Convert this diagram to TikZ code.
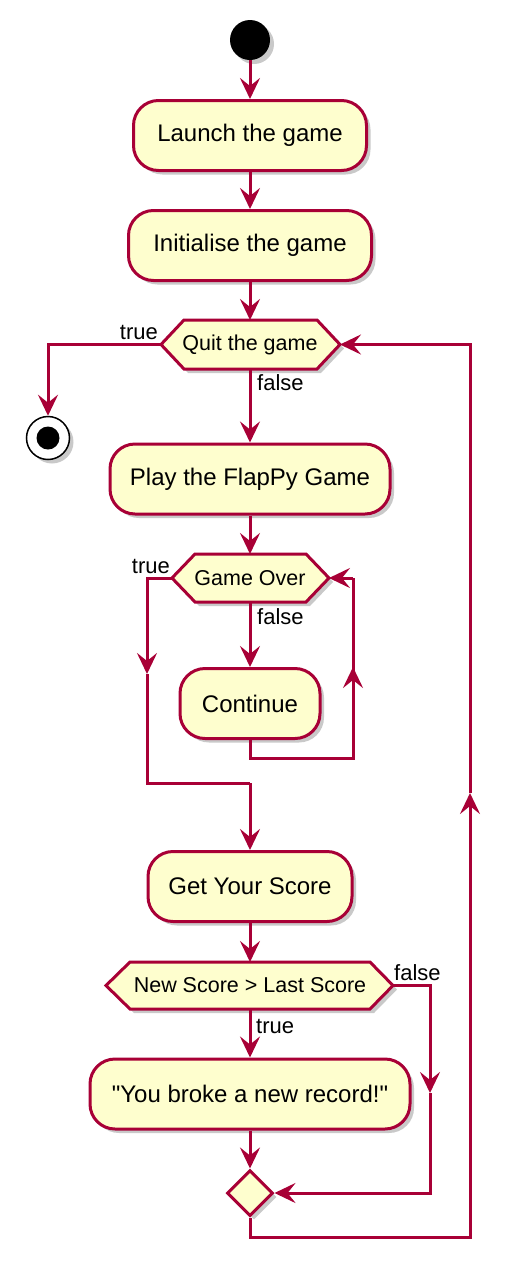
\documentclass[tikz,border=0pt]{standalone}
\usepackage{fontspec}
\setmainfont{Liberation Sans}[Ligatures=TeXOff]
\usetikzlibrary{arrows.meta,shadows,shapes.geometric}
\definecolor{pumlred}{HTML}{A80036}
\definecolor{pumlfill}{HTML}{FEFECE}
\begin{document}
\begin{tikzpicture}[x=1pt,y=-1pt,
  conn/.style={draw=pumlred, line width=3pt},
  arr/.style={conn, -{Stealth[length=21pt,width=20pt,inset=8pt]}},
  shad/.style={drop shadow={shadow xshift=4pt,shadow yshift=-4pt,opacity=0.3,fill=black!70}},
  act/.style={draw=pumlred, fill=pumlfill, line width=3pt, rounded corners=25pt, minimum height=70pt, inner sep=0pt, font=\fontsize{24}{28}\selectfont, shad},
  hex/.style={draw=pumlred, fill=pumlfill, line width=3pt, line join=miter, shad},
  hextext/.style={font=\fontsize{21.5}{25}\selectfont, inner sep=0pt},
  lbl/.style={font=\fontsize{22}{26}\selectfont, inner sep=0pt},
]
\useasboundingbox (0,0) rectangle (520,1283);

% start
\node[circle, fill=black, minimum size=40pt, inner sep=0pt, shad] (start) at (250,40) {};
% actions
\node[act, minimum width=233pt] (launch) at (250,135.5) {Launch the game};
\node[act, minimum width=243pt] (init) at (250,245.5) {Initialise the game};

% Quit hexagon
\path[hex] (161,344.5) -- (184,320) -- (317,320) -- (340,344.5) -- (317,369) -- (184,369) -- cycle;
\node[hextext] (quit) at (250,344.5) {Quit the game};
\coordinate (quitW) at (161,344.5);
\coordinate (quitE) at (340,344.5);
\coordinate (quitN) at (250,320);
\coordinate (quitS) at (250,369);

% stop
\node[circle, draw=black, fill=white, line width=1.5pt, minimum size=43pt, inner sep=0pt, shad] (stop) at (48,438) {};
\node[circle, fill=black, minimum size=23pt, inner sep=0pt] (stopin) at (stop) {};

\node[act, minimum width=280pt] (play) at (250,479) {Play the FlapPy Game};

% Game over hexagon
\path[hex] (172,578) -- (195,554) -- (306,554) -- (329,578) -- (306,602) -- (195,602) -- cycle;
\node[hextext] (over) at (250,578) {Game Over};
\coordinate (overW) at (172,578);
\coordinate (overE) at (329,578);
\coordinate (overN) at (250,554);
\coordinate (overS) at (250,602);

\node[act, minimum width=140pt] (cont) at (250,703.5) {Continue};
\node[act, minimum width=204pt] (score) at (250,886.5) {Get Your Score};

% New score hexagon
\path[hex] (106,985.5) -- (130,962) -- (370,962) -- (393,985.5) -- (370,1009) -- (130,1009) -- cycle;
\node[hextext] (newsc) at (250,985.5) {New Score > Last Score};
\coordinate (nsW) at (106,985.5);
\coordinate (nsE) at (393,985.5);
\coordinate (nsN) at (250,962);
\coordinate (nsS) at (250,1009);

\node[act, minimum width=320pt] (record) at (250,1094) {"You broke a new record!"};

% merge diamond
\node[diamond, draw=pumlred, fill=pumlfill, line width=3pt, minimum width=46pt, minimum height=46pt, inner sep=0pt, shad] (merge) at (250,1193) {};

% bend coordinates
\coordinate (g1) at (147,578);
\coordinate (g2) at (147,674);
\coordinate (g3) at (147,783);
\coordinate (g4) at (250,783);
\coordinate (c1) at (250,758);
\coordinate (c2) at (353,758);
\coordinate (c3) at (353,667);
\coordinate (c4) at (353,578);
\coordinate (n1) at (430,985.5);
\coordinate (n2) at (430,1093);
\coordinate (n3) at (430,1193);
\coordinate (m1) at (250,1237);
\coordinate (m2) at (470,1237);
\coordinate (m3) at (470,793);
\coordinate (m4) at (470,344.5);
\coordinate (q1) at (48,344.5);

% connectors
\draw[arr] (start) -- (launch);
\draw[arr] (launch) -- (init);
\draw[arr] (init) -- (quitN);
\draw[arr] (quitW) -- (q1) -- (stop);
\draw[arr] (quitS) -- (play);
\draw[arr] (play) -- (overN);
\draw[arr] (overW) -- (g1) -- (g2);
\draw[conn] (g2) -- (g3) -- (g4);
\draw[arr] (g4) -- (score);
\draw[arr] (overS) -- (cont);
\draw[conn] (cont) -- (c1) -- (c2) -- (c4);
\draw[arr] (c2) -- (c3);
\draw[arr] (c4) -- (overE);
\draw[arr] (score) -- (nsN);
\draw[arr] (nsE) -- (n1) -- (n2);
\draw[arr] (n2) -- (n3) -- (merge.east);
\draw[arr] (nsS) -- (record);
\draw[arr] (record) -- (merge.north);
\draw[arr] (merge.south) -- (m1) -- (m2) -- (m3);
\draw[arr] (m3) -- (m4) -- (quitE);

% labels
\node[lbl, anchor=base east] (lq1) at (158,339) {true};
\node[lbl, anchor=base west] (lq2) at (257,390) {false};
\node[lbl, anchor=base east] (lo1) at (170,573) {true};
\node[lbl, anchor=base west] (lo2) at (257,624) {false};
\node[lbl, anchor=base west] (ln1) at (394,980) {false};
\node[lbl, anchor=base west] (ln2) at (256,1033) {true};
\end{tikzpicture}
\end{document}
